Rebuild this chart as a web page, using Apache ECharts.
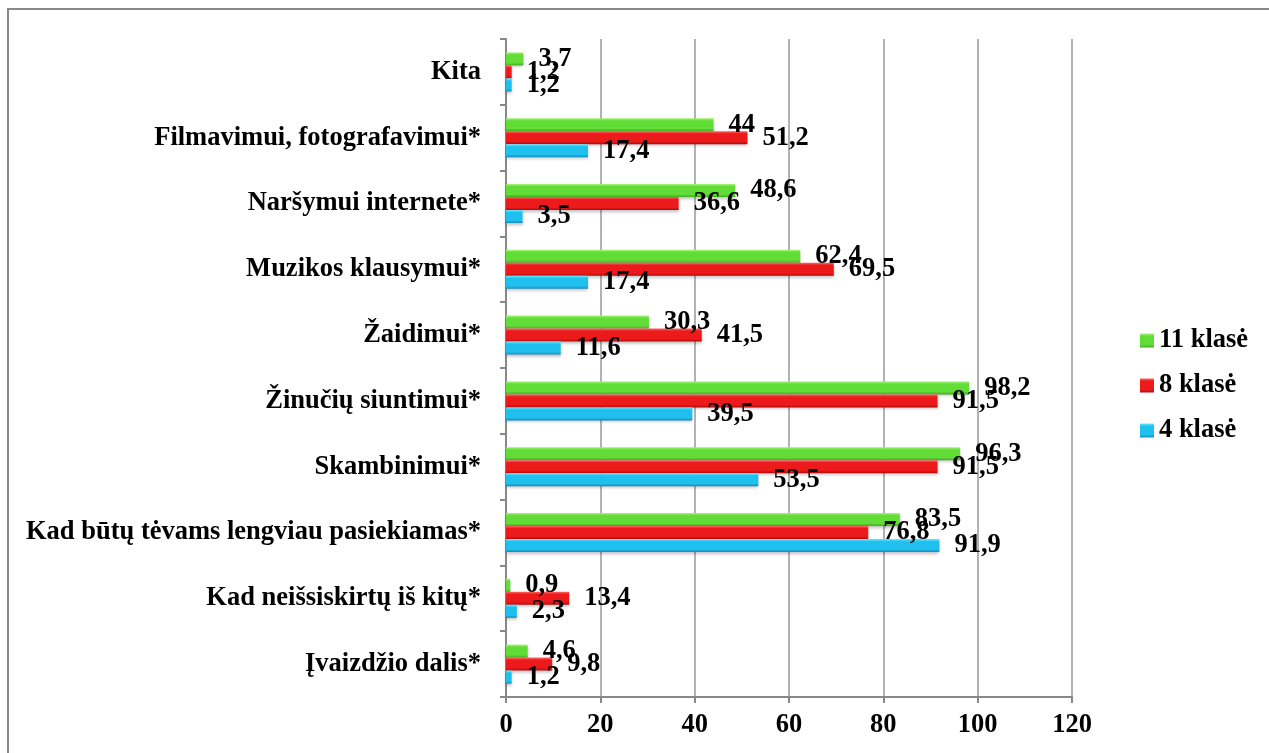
<!DOCTYPE html>
<html>
<head>
<meta charset="utf-8">
<script src="https://cdn.jsdelivr.net/npm/echarts@6/dist/echarts.min.js"></script>
<style>
  html, body { margin: 0; padding: 0; background: #fff; }
  #chart { width: 1269px; height: 753px; }
</style>
</head>
<body>
<div id="chart"></div>
<script>
// categories, bottom -> top
const categories = [
  "Įvaizdžio dalis*",
  "Kad neišsiskirtų iš kitų*",
  "Kad būtų tėvams lengviau pasiekiamas*",
  "Skambinimui*",
  "Žinučių siuntimui*",
  "Žaidimui*",
  "Muzikos klausymui*",
  "Naršymui internete*",
  "Filmavimui, fotografavimui*",
  "Kita"
];
const klase4 = [1.2, 2.3, 91.9, 53.5, 39.5, 11.6, 17.4, 3.5, 17.4, 1.2];
const klase8 = [9.8, 13.4, 76.8, 91.5, 91.5, 41.5, 69.5, 36.6, 51.2, 1.2];
const klase11 = [4.6, 0.9, 83.5, 96.3, 98.2, 30.3, 62.4, 48.6, 44, 3.7];
const seriesNames = ["11 klasė", "8 klasė", "4 klasė"];
const xTicks = [0, 20, 40, 60, 80, 100, 120];

const FONT = "'Liberation Serif', 'Times New Roman', serif";
const FS = 26.5;

function bevel(top, mid, bottom) {
  return new echarts.graphic.LinearGradient(0, 0, 0, 1, [
    { offset: 0, color: top },
    { offset: 0.2, color: mid },
    { offset: 0.8, color: mid },
    { offset: 1, color: bottom }
  ]);
}

const green = bevel("#a6f57a", "#62dc36", "#44a822");
const red = bevel("#ff6464", "#ec1a1a", "#b00a0a");
const blue = bevel("#66eaff", "#20c0ee", "#1488bb");

function makeSeries(name, data, color) {
  return {
    name: name,
    type: "bar",
    data: data,
    barWidth: 13,
    barGap: "0%",
    itemStyle: {
      color: color,
      shadowColor: "rgba(0,0,0,0.25)",
      shadowBlur: 3,
      shadowOffsetY: 2
    },
    label: {
      show: true,
      position: "right",
      distance: 15,
      color: "#000",
      fontFamily: FONT,
      fontWeight: "bold",
      fontSize: FS,
      formatter: p => String(p.value).replace(".", ",")
    }
  };
}

const chart = echarts.init(document.getElementById("chart"));
chart.setOption({
  backgroundColor: "#fff",
  animation: false,
  graphic: [{
    type: "rect",
    shape: { x: 8, y: 9, width: 1300, height: 800 },
    style: { fill: "none", stroke: "#888", lineWidth: 2 },
    silent: true
  }],
  grid: { left: 506, right: 197, top: 39, bottom: 56 },
  legend: {
    orient: "vertical",
    left: 1135,
    top: 322,
    itemWidth: 14,
    itemHeight: 14,
    itemGap: 18,
    data: seriesNames,
    textStyle: {
      color: "#000",
      fontFamily: FONT,
      fontWeight: "bold",
      fontSize: FS,
      lineHeight: 27
    },
    icon: "rect"
  },
  xAxis: {
    type: "value",
    min: xTicks[0],
    max: xTicks[xTicks.length - 1],
    interval: 20,
    axisLine: { show: true, lineStyle: { color: "#888", width: 2 } },
    axisTick: { show: true, length: 6, lineStyle: { color: "#888", width: 2 } },
    splitLine: { show: true, lineStyle: { color: "#999", width: 1.5 } },
    axisLabel: {
      color: "#000",
      fontFamily: FONT,
      fontWeight: "bold",
      fontSize: FS,
      margin: 15
    }
  },
  yAxis: {
    type: "category",
    data: categories,
    axisLine: { show: true, lineStyle: { color: "#888", width: 2 } },
    axisTick: { show: true, length: 6, lineStyle: { color: "#888", width: 2 } },
    axisLabel: {
      color: "#000",
      fontFamily: FONT,
      fontWeight: "bold",
      fontSize: FS,
      margin: 25
    }
  },
  series: [
    makeSeries(seriesNames[0], klase11, green),
    makeSeries(seriesNames[1], klase8, red),
    makeSeries(seriesNames[2], klase4, blue)
  ]
});
</script>
</body>
</html>
